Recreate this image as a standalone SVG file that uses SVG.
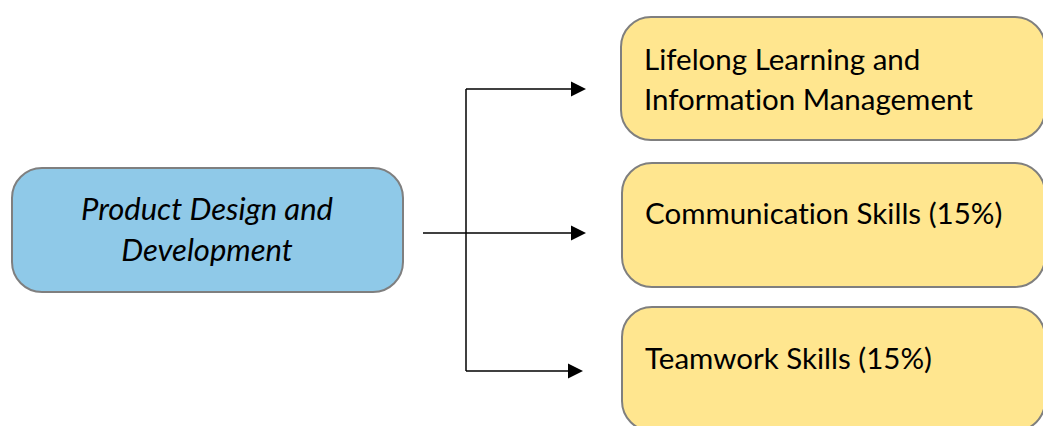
<svg xmlns="http://www.w3.org/2000/svg" width="1043" height="426" viewBox="0 0 1043 426">
<style>
.box{stroke:#7f7f7f;stroke-width:2}
.blue{fill:#8fc9e8}
.yellow{fill:#ffe68f}
text{font-family:Lato,"Open Sans","Noto Sans",sans-serif;font-size:29.5px;fill:#000;font-variant-ligatures:none;font-feature-settings:"liga" 0,"dlig" 0}
.it{font-style:italic;font-size:31px}
.conn{stroke:#000;stroke-width:1.5;fill:none}
</style>
<g id="connectors">
<path class="conn" d="M466,89 L466,371"/>
<line x1="466" y1="89" x2="571" y2="89" class="conn"/>
<path d="M571,81.5 L586,89 L571,96.5 Z" fill="#000"/>
<line x1="423" y1="233" x2="571" y2="233" class="conn"/>
<path d="M571,225.5 L586,233 L571,240.5 Z" fill="#000"/>
<line x1="466" y1="371" x2="568" y2="371" class="conn"/>
<path d="M568,363.5 L583,371 L568,378.5 Z" fill="#000"/>
</g>
<g id="node-product">
<rect class="box blue" x="12" y="168" width="391" height="124" rx="30"/>
<text class="it" x="207" y="220" text-anchor="middle">Product Design and</text>
<text class="it" x="207" y="261" text-anchor="middle">Development</text>
</g>
<g id="node-lifelong">
<rect class="box yellow" x="621" y="17" width="424" height="123" rx="30"/>
<text x="644" y="70">Lifelong Learning and</text>
<text x="644" y="110">Information Management</text>
</g>
<g id="node-communication">
<rect class="box yellow" x="622" y="163" width="423" height="124" rx="30"/>
<text x="645" y="224">Communication Skills (15%)</text>
</g>
<g id="node-teamwork">
<rect class="box yellow" x="622" y="307" width="423" height="124" rx="30"/>
<text x="645" y="369">Teamwork Skills (15%)</text>
</g>
</svg>
